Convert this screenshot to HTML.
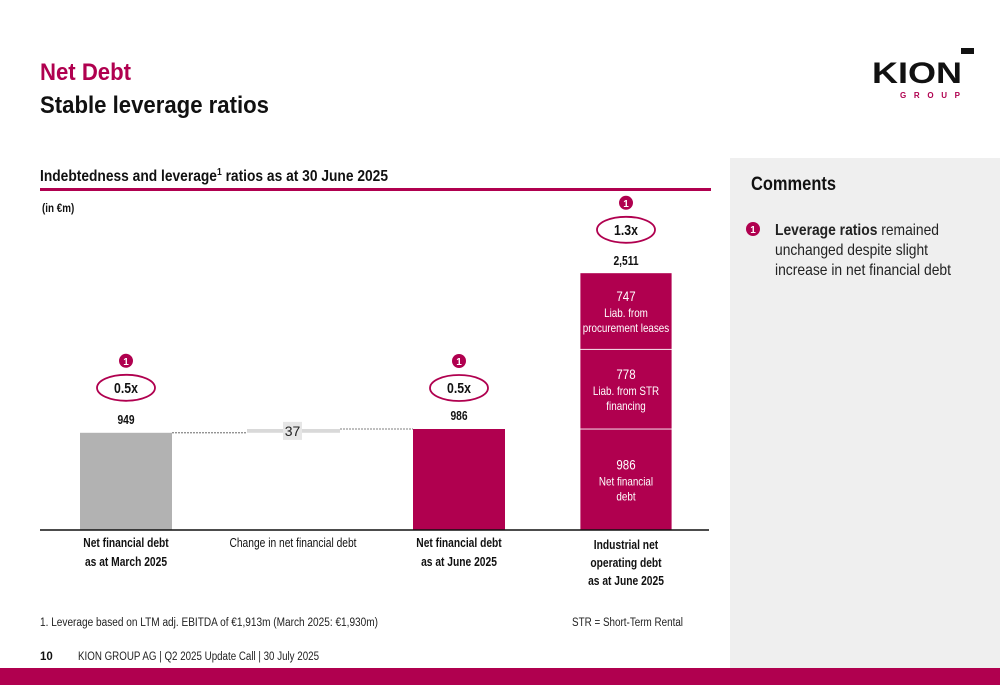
<!DOCTYPE html>
<html><head><meta charset="utf-8"><style>
html,body{margin:0;padding:0;background:#fff}
svg{display:block;font-family:"Liberation Sans Narrow","Liberation Sans",sans-serif}
</style></head><body>
<svg id="chart" width="1000" height="685" viewBox="0 0 1000 685">
<text x="40" y="80" font-size="24" font-weight="bold" fill="#b0004f" textLength="91" lengthAdjust="spacingAndGlyphs">Net Debt</text>
<text x="40" y="113" font-size="24" font-weight="bold" fill="#111" textLength="229" lengthAdjust="spacingAndGlyphs">Stable leverage ratios</text>
<g>
<rect x="961" y="48" width="13" height="6" fill="#111"/>
<text x="872" y="83" font-size="30" font-weight="bold" fill="#111" font-family="Liberation Sans,sans-serif" textLength="90" lengthAdjust="spacingAndGlyphs">KION</text>
<text x="900" y="98" font-size="8" font-weight="bold" fill="#b0004f" font-family="Liberation Sans,sans-serif" textLength="60" lengthAdjust="spacing">GROUP</text>
</g>
<rect x="730" y="158" width="270" height="510" fill="#efefef"/>
<text x="751" y="190" font-size="19" font-weight="bold" fill="#111" textLength="85" lengthAdjust="spacingAndGlyphs">Comments</text>
<g>
<circle cx="753" cy="229" r="7" fill="#b0004f"/><text x="753" y="233" font-size="10" font-weight="bold" fill="#fff" text-anchor="middle">1</text>
<text x="775" y="235" font-size="16" fill="#222" textLength="164" lengthAdjust="spacingAndGlyphs"><tspan font-weight="bold">Leverage ratios</tspan> remained</text>
<text x="775" y="255" font-size="16" fill="#222" textLength="153" lengthAdjust="spacingAndGlyphs">unchanged despite slight</text>
<text x="775" y="275" font-size="16" fill="#222" textLength="176" lengthAdjust="spacingAndGlyphs">increase in net financial debt</text>
</g>
<text x="40" y="181" font-size="16" font-weight="bold" fill="#111" textLength="348" lengthAdjust="spacingAndGlyphs">Indebtedness and leverage<tspan font-size="10" dy="-6">1</tspan><tspan dy="6"> ratios as at 30 June 2025</tspan></text>
<rect x="40" y="188" width="671" height="3" fill="#b0004f"/>
<text x="42" y="212" font-size="12" font-weight="bold" fill="#111">(in €m)</text>
<g id="bars"></g>
<line x1="40" y1="530" x2="709" y2="530" stroke="#111" stroke-width="1.5"/>
<g font-size="12.5" fill="#111" text-anchor="middle">
<text x="126" y="547" font-weight="bold">Net financial debt</text><text x="126" y="566" font-weight="bold">as at March 2025</text>
<text x="293" y="547">Change in net financial debt</text>
<text x="459" y="547" font-weight="bold">Net financial debt</text><text x="459" y="566" font-weight="bold">as at June 2025</text>
<text x="626" y="549" font-weight="bold">Industrial net</text><text x="626" y="567" font-weight="bold">operating debt</text><text x="626" y="585" font-weight="bold">as at June 2025</text>
</g>
<text x="40" y="626" font-size="11.5" fill="#222" textLength="338" lengthAdjust="spacingAndGlyphs">1.     Leverage based on LTM adj. EBITDA of €1,913m (March 2025: €1,930m)</text>
<text x="572" y="626" font-size="11.5" fill="#222" textLength="111" lengthAdjust="spacingAndGlyphs">STR = Short-Term Rental</text>
<text x="40" y="660" font-size="11.5" font-weight="bold" fill="#111">10</text>
<text x="78" y="660" font-size="11.5" fill="#222" textLength="241" lengthAdjust="spacingAndGlyphs">KION GROUP AG | Q2 2025 Update Call | 30 July 2025</text>
<rect x="0" y="668" width="1000" height="17" fill="#b0004f"/>
</svg>
<script>
const values = [949, 37, 986];
const stackValues = [986, 778, 747];
const stackLabels = [["Net financial","debt"],["Liab. from STR","financing"],["Liab. from","procurement leases"]];
const totalLabel = "2,511";
const leverage = ["0.5x", "0.5x", "1.3x"];
const NS = "http://www.w3.org/2000/svg";
const g = document.getElementById('bars');
const base = 530, k = 101/986;
const y = v => base - v*k;
function el(tag, a, txt){const e=document.createElementNS(NS,tag);for(const n in a)e.setAttribute(n,a[n]);if(txt!=null)e.textContent=txt;g.appendChild(e);return e;}
const M="#b0004f";
function badge(cx, ty, lev){
  const c=el('circle',{cx:cx,cy:ty-48,r:7,fill:M});
  
  
  el('text',{x:cx,y:ty-44,'font-size':10,'font-weight':'bold',fill:'#fff','text-anchor':'middle'},'1');
  const e=el('ellipse',{cx:cx,cy:ty-21,rx:29,ry:13,fill:'#fff',stroke:M,'stroke-width':1.8});
  
  
  el('text',{x:cx,y:ty-16,'font-size':15,'font-weight':'bold',fill:'#111','text-anchor':'middle'},lev);
}
let b=el('rect',{x:80,y:y(values[0]),width:92,height:values[0]*k,fill:'#b2b2b2'});


el('text',{x:126,y:y(values[0])-9,'font-size':12.5,'font-weight':'bold',fill:'#111','text-anchor':'middle'},String(values[0]));
badge(126,y(values[0])-24,leverage[0]);
const cTop=y(values[0]+values[1]), cBot=y(values[0]);
el('line',{x1:172,y1:cBot,x2:247,y2:cBot,stroke:'#555','stroke-dasharray':'2,1','stroke-width':0.8});
b=el('rect',{x:247,y:cTop,width:93,height:Math.max(cBot-cTop,1),fill:'#d9d9d9'});


el('line',{x1:340,y1:cTop,x2:413,y2:cTop,stroke:'#555','stroke-dasharray':'2,1','stroke-width':0.8});
el('rect',{x:283,y:(cTop+cBot)/2-9,width:19,height:18,fill:'#e6e6e6'});
el('text',{x:292.5,y:(cTop+cBot)/2+5,'font-size':14,fill:'#222','text-anchor':'middle'},String(values[1]));
b=el('rect',{x:413,y:y(values[2]),width:92,height:values[2]*k,fill:M});


el('text',{x:459,y:y(values[2])-9,'font-size':12.5,'font-weight':'bold',fill:'#111','text-anchor':'middle'},String(values[2]));
badge(459,y(values[2])-20,leverage[1]);
let cum=0;
stackValues.forEach((v,i)=>{
  const top=y(cum+v), bot=y(cum);
  const r=el('rect',{x:580,y:top,width:92,height:bot-top,fill:M,stroke:'#fff','stroke-width':0.8});
  
  
  const mid=(top+bot)/2;
  el('text',{x:626,y:mid-10,'font-size':14,fill:'#fff','text-anchor':'middle'},String(v));
  el('text',{x:626,y:mid+6,'font-size':12,fill:'#fff','text-anchor':'middle'},stackLabels[i][0]);
  el('text',{x:626,y:mid+21,'font-size':12,fill:'#fff','text-anchor':'middle'},stackLabels[i][1]);
  cum+=v;
});
el('text',{x:626,y:y(cum)-8,'font-size':12.5,'font-weight':'bold',fill:'#111','text-anchor':'middle'},totalLabel);
badge(626,y(cum)-22,leverage[2]);
// condense text to mimic narrow font
document.querySelectorAll('#chart text').forEach(t=>{
  if(t.hasAttribute('textLength')) return;
  const txt=t.textContent.trim();
  if(txt.length<3) return;
  const w=t.getComputedTextLength();
  t.setAttribute('textLength',(w*0.82).toFixed(1));
  t.setAttribute('lengthAdjust','spacingAndGlyphs');
});
</script>
</body></html>
